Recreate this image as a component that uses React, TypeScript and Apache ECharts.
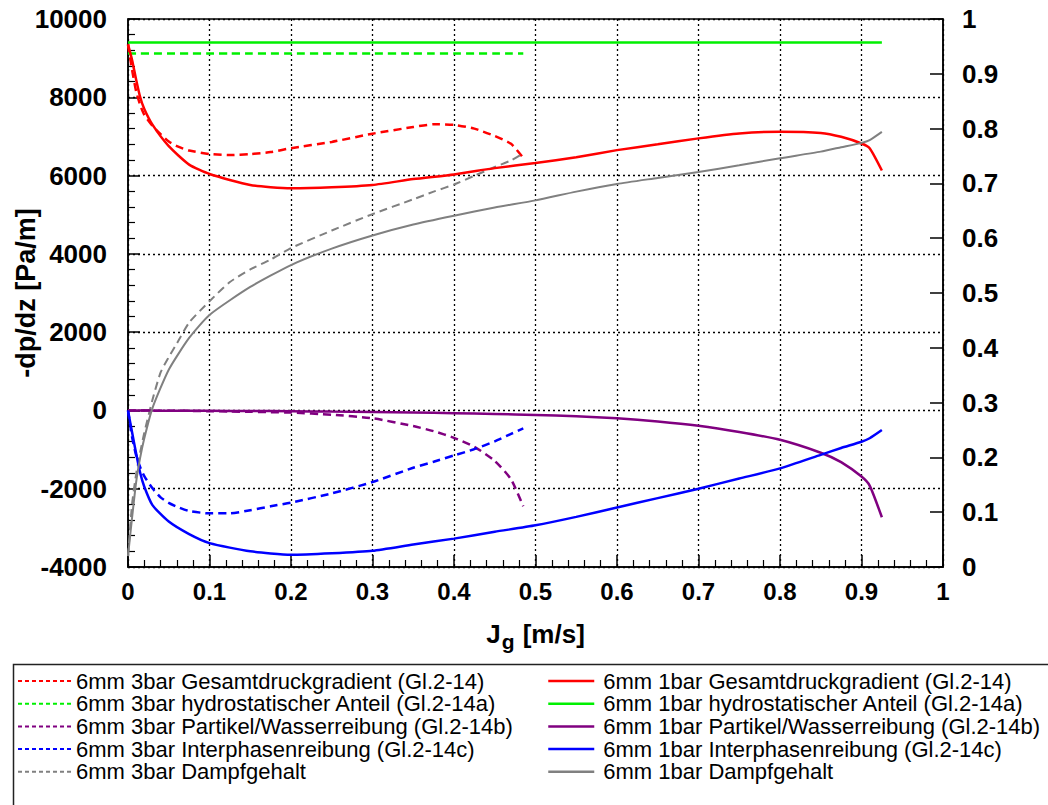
import React, { useEffect, useRef } from "react";
import * as echarts from "echarts";

const FONT = "Arial, 'Liberation Sans', Helvetica, sans-serif";

// x values (Jg [m/s])
const jg1bar = [0, 0.005, 0.01, 0.015, 0.02, 0.03, 0.05, 0.075, 0.1, 0.15, 0.2, 0.25, 0.3, 0.35, 0.4, 0.45, 0.5, 0.55, 0.6, 0.65, 0.7, 0.75, 0.8, 0.85, 0.875, 0.9, 0.91, 0.925];
const jg3bar = [0, 0.005, 0.01, 0.015, 0.02, 0.03, 0.04, 0.05, 0.06, 0.075, 0.1, 0.125, 0.15, 0.175, 0.2, 0.25, 0.3, 0.35, 0.375, 0.4, 0.425, 0.45, 0.47, 0.485];

// 1 bar series (left axis, Pa/m)
const gesamt1bar = [9350, 8950, 8450, 8000, 7700, 7300, 6750, 6280, 6040, 5760, 5675, 5700, 5760, 5910, 6030, 6190, 6320, 6470, 6650, 6800, 6950, 7075, 7120, 7090, 6990, 6820, 6700, 6130];
const hydro1bar = [9400, 9400, 9400, 9400, 9400, 9400, 9400, 9400, 9400, 9400, 9400, 9400, 9400, 9400, 9400, 9400, 9400, 9400, 9400, 9400, 9400, 9400, 9400, 9400, 9400, 9400, 9400, 9400];
const partikel1bar = [0, 0, -2, -3, -4, -5, -6, -8, -10, -15, -20, -30, -40, -55, -70, -90, -115, -150, -200, -280, -390, -550, -750, -1080, -1320, -1690, -1920, -2730];
const interphasen1bar = [0, -560, -1100, -1600, -1950, -2420, -2840, -3160, -3390, -3600, -3690, -3650, -3585, -3425, -3275, -3100, -2935, -2720, -2480, -2240, -2000, -1740, -1480, -1135, -960, -800, -710, -500];
// 1 bar vapour quality (right axis)
const dampf1bar = [0.02, 0.09, 0.155, 0.2, 0.235, 0.29, 0.36, 0.418, 0.46, 0.511, 0.551, 0.581, 0.605, 0.625, 0.641, 0.656, 0.669, 0.685, 0.699, 0.71, 0.721, 0.733, 0.746, 0.758, 0.766, 0.774, 0.779, 0.794];

// 3 bar series (left axis, Pa/m)
const gesamt3bar = [9350, 8700, 8150, 7800, 7550, 7270, 7060, 6870, 6750, 6640, 6550, 6525, 6550, 6600, 6700, 6860, 7070, 7240, 7310, 7295, 7200, 7010, 6810, 6450];
const hydro3bar = [9120, 9120, 9120, 9120, 9120, 9120, 9120, 9120, 9120, 9120, 9120, 9120, 9120, 9120, 9120, 9120, 9120, 9120, 9120, 9120, 9120, 9120, 9120, 9120];
const partikel3bar = [0, 0, -2, -3, -4, -5, -6, -7, -8, -10, -20, -28, -35, -45, -55, -110, -200, -400, -530, -700, -930, -1290, -1760, -2450];
const interphasen3bar = [0, -680, -1150, -1450, -1680, -1990, -2220, -2360, -2460, -2570, -2630, -2630, -2550, -2450, -2355, -2120, -1830, -1465, -1310, -1150, -990, -790, -600, -460];
// 3 bar vapour quality (right axis)
const dampf3bar = [0.02, 0.115, 0.17, 0.21, 0.245, 0.305, 0.355, 0.383, 0.408, 0.446, 0.485, 0.52, 0.543, 0.561, 0.582, 0.614, 0.644, 0.671, 0.685, 0.698, 0.714, 0.73, 0.742, 0.755];

const names3bar = [
  "6mm 3bar Gesamtdruckgradient (Gl.2-14)",
  "6mm 3bar hydrostatischer Anteil (Gl.2-14a)",
  "6mm 3bar Partikel/Wasserreibung (Gl.2-14b)",
  "6mm 3bar Interphasenreibung (Gl.2-14c)",
  "6mm 3bar Dampfgehalt",
];
const names1bar = [
  "6mm 1bar Gesamtdruckgradient (Gl.2-14)",
  "6mm 1bar hydrostatischer Anteil (Gl.2-14a)",
  "6mm 1bar Partikel/Wasserreibung (Gl.2-14b)",
  "6mm 1bar Interphasenreibung (Gl.2-14c)",
  "6mm 1bar Dampfgehalt",
];
const yAxisTitle = "-dp/dz [Pa/m]";
const colors = ["#ff0000", "#00f000", "#800080", "#0000ff", "#808080"];

const pair = (xs: number[], ys: number[]) => xs.map((x, i) => [x, ys[i]]);

function buildOption() {
  const ys3 = [gesamt3bar, hydro3bar, partikel3bar, interphasen3bar, dampf3bar];
  const ys1 = [gesamt1bar, hydro1bar, partikel1bar, interphasen1bar, dampf1bar];
  const series: any[] = [];
  ys3.forEach((ys, i) => {
    series.push({
      name: names3bar[i],
      type: "line",
      yAxisIndex: i === 4 ? 1 : 0,
      data: pair(jg3bar, ys),
      symbol: "none",
      smooth: 0.2,
      lineStyle: { color: colors[i], width: i === 4 ? 2 : 2.5, type: [8, 5] },
      itemStyle: { color: colors[i] },
    });
  });
  ys1.forEach((ys, i) => {
    series.push({
      name: names1bar[i],
      type: "line",
      yAxisIndex: i === 4 ? 1 : 0,
      data: pair(jg1bar, ys),
      symbol: "none",
      smooth: 0.2,
      lineStyle: { color: colors[i], width: i === 4 ? 2 : 2.5, type: "solid" },
      itemStyle: { color: colors[i] },
    });
  });

  const axisLine = { show: true, onZero: false, lineStyle: { color: "#000", width: 1.5 } };
  const splitLine = { show: true, lineStyle: { color: "#000", type: [2, 3], width: 1.3 } };
  const labelStyle = { color: "#000", fontSize: 26, fontWeight: "bold", fontFamily: FONT };
  const legendText = { fontSize: 22, fontFamily: FONT, color: "#000", lineHeight: 21 };

  return {
    animation: false,
    backgroundColor: "#fff",
    grid: {
      left: 128,
      right: 105,
      top: 19,
      bottom: 238,
      show: true,
      borderColor: "#000",
      borderWidth: 1.5,
      backgroundColor: "transparent",
      containLabel: false,
      outerBoundsMode: "none",
    },
    xAxis: {
      type: "value",
      min: 0,
      max: 1,
      interval: 0.1,
      axisLine,
      axisTick: { show: true, inside: true, length: 12, lineStyle: { color: "#000", width: 1.5 } },
      minorTick: { show: true, splitNumber: 5, length: 7, lineStyle: { color: "#000", width: 1.2 } },
      splitLine,
      axisLabel: { ...labelStyle, fontSize: 24, margin: 12, formatter: (v: number) => String(Math.round(v * 10) / 10) },
      name: "{a|J}{b|g}{a| [m/s]}",
      nameLocation: "middle",
      nameGap: 54,
      nameTextStyle: {
        rich: {
          a: { fontSize: 26, fontWeight: "bold", fontFamily: FONT, color: "#000", verticalAlign: "top" },
          b: { fontSize: 21, fontWeight: "bold", fontFamily: FONT, color: "#000", verticalAlign: "top", padding: [10, 1, 0, 1] },
        },
      },
    },
    yAxis: [
      {
        type: "value",
        position: "left",
        min: -4000,
        max: 10000,
        interval: 2000,
        axisLine,
        axisTick: { show: true, inside: true, length: 12, lineStyle: { color: "#000", width: 1.5 } },
        minorTick: { show: true, splitNumber: 5, length: 7, lineStyle: { color: "#000", width: 1.2 } },
        splitLine,
        axisLabel: { ...labelStyle, margin: 21, formatter: (v: number) => String(v) },
      },
      {
        type: "value",
        position: "right",
        min: 0,
        max: 1,
        interval: 0.1,
        axisLine,
        axisTick: { show: true, inside: true, length: 13, lineStyle: { color: "#000", width: 1.5 } },
        splitLine: { show: false },
        axisLabel: {
          ...labelStyle,
          margin: 19,
          formatter: (v: number) => (v === 0 ? "0" : v === 1 ? "1" : v.toFixed(1)),
        },
      },
    ],
    legend: [
      {
        orient: "vertical",
        left: 17,
        top: 670,
        padding: 0,
        data: names3bar,
        itemWidth: 55,
        itemHeight: 10,
        itemGap: 0.7,
        lineStyle: { type: [4, 3], width: 2 },
        itemStyle: { opacity: 0, borderWidth: 0 },
        textStyle: { ...legendText, padding: [0, 0, 0, -2] },
        selectedMode: false,
      },
      {
        orient: "vertical",
        left: 547,
        top: 670,
        padding: 0,
        data: names1bar,
        itemWidth: 46,
        itemHeight: 10,
        itemGap: 0.7,
        lineStyle: { width: 2.5 },
        itemStyle: { opacity: 0, borderWidth: 0 },
        textStyle: { ...legendText, padding: [0, 0, 0, 4] },
        selectedMode: false,
      },
    ],
    graphic: [
      {
        type: "rect",
        left: 11,
        top: 662,
        shape: { x: 0, y: 0, width: 1100, height: 200 },
        style: { fill: "none", stroke: "#222", lineWidth: 1.5 },
        silent: true,
      },
      {
        type: "text",
        x: 26,
        y: 293,
        rotation: Math.PI / 2,
        silent: true,
        style: {
          text: yAxisTitle,
          fontSize: 27,
          fontWeight: "bold",
          fontFamily: FONT,
          fill: "#000",
          align: "center",
          verticalAlign: "middle",
        },
      },
    ],
    series,
  };
}

export default function App() {
  const ref = useRef<HTMLDivElement>(null);
  useEffect(() => {
    const chart = echarts.init(ref.current!, null, { renderer: "svg" });
    chart.setOption(buildOption() as any);
    return () => chart.dispose();
  }, []);
  return <div ref={ref} style={{ position: "fixed", left: 0, top: 0, width: 1048, height: 805 }} />;
}
